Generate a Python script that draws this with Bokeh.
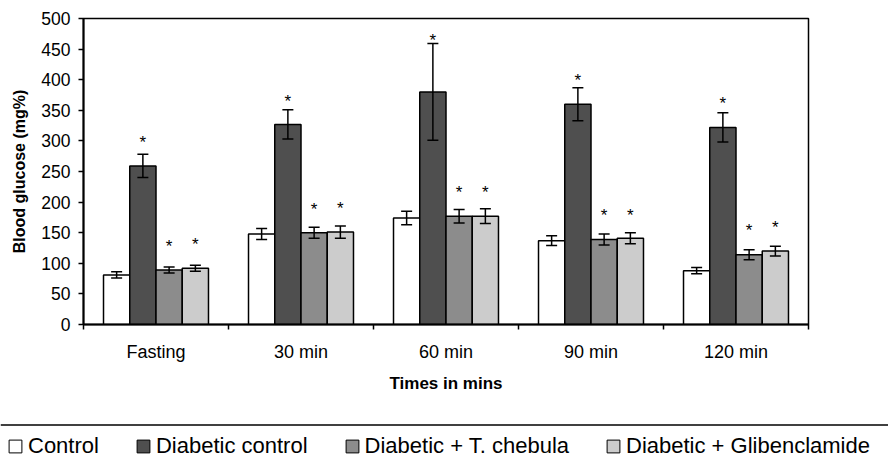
from bokeh.plotting import figure
from bokeh.models import (ColumnDataSource, Range1d, FixedTicker, Whisker, TeeHead,
                          Legend, LegendItem, Span)
from bokeh.core.properties import value
from bokeh.embed import file_html
from bokeh.resources import INLINE

# ---------------- data ----------------
categories = ["Fasting", "30 min", "60 min", "90 min", "120 min"]
series = ["Control", "Diabetic control", "Diabetic + T. chebula", "Diabetic + Glibenclamide"]
colors = ["#ffffff", "#4f4f4f", "#8c8c8c", "#cccccc"]

control = [81, 148, 174, 137, 88]
control_err = [5, 9, 11, 8, 5]
diabetic = [259, 327, 380, 360, 322]
diabetic_err = [19, 24, 79, 27, 24]
chebula = [89, 150, 177, 139, 114]
chebula_err = [5, 9, 11, 9, 8]
glib = [92, 151, 177, 141, 120]
glib_err = [5, 10, 12, 9, 8]

# significance markers (*) levels, in mg%
star_diabetic = [304, 371, 470, 405, 367]
star_chebula = [134, 194, 222, 184, 160]
star_glib = [137, 196, 222, 185, 165]

y_ticks = [0, 50, 100, 150, 200, 250, 300, 350, 400, 450, 500]

FONT = "Liberation Sans"
W = 888

# ---------------- main chart ----------------
p = figure(width=W, height=408, output_backend="svg", toolbar_location=None,
           x_range=Range1d(0, len(categories)), y_range=Range1d(0, 500),
           min_border_left=83, min_border_right=80, min_border_top=18, min_border_bottom=84,
           tools="")
p.grid.visible = False
p.outline_line_color = "black"
p.outline_line_width = 1.5

centers = [i + 0.5 for i in range(len(categories))]
BW = 0.181
vals_all = [control, diabetic, chebula, glib]
errs_all = [control_err, diabetic_err, chebula_err, glib_err]
stars_all = [None, star_diabetic, star_chebula, star_glib]

for k, (name, col, vals, errs, st) in enumerate(zip(series, colors, vals_all, errs_all, stars_all)):
    off = (k - 1.5) * BW
    src = ColumnDataSource(dict(
        x=[c + off for c in centers],
        top=vals,
        upper=[v + e for v, e in zip(vals, errs)],
        lower=[v - e for v, e in zip(vals, errs)],
    ))
    p.vbar(x="x", top="top", width=BW, source=src, fill_color=col,
           line_color="black", line_width=1.5)
    w = Whisker(source=src, base="x", upper="upper", lower="lower",
                line_color="black", line_width=1.5, level="annotation",
                upper_head=TeeHead(size=11, line_color="black", line_width=1.5),
                lower_head=TeeHead(size=11, line_color="black", line_width=1.5))
    p.add_layout(w)
    if st is not None:
        p.text(x=[c + off for c in centers], y=st, text=["*"] * len(st),
               text_align="center", text_baseline="middle", y_offset=4,
               text_font=value(FONT), text_font_size="17px", text_color="black")

# x axis: labels at centres, tick marks at category boundaries
xa = p.xaxis[0]
xa.ticker = FixedTicker(ticks=centers, minor_ticks=list(range(len(categories) + 1)))
xa.major_label_overrides = {c: lab for c, lab in zip(centers, categories)}
xa.major_tick_out = 0
xa.major_tick_in = 0
xa.minor_tick_out = 5
xa.minor_tick_in = 0
xa.minor_tick_line_color = "black"
xa.minor_tick_line_width = 1.5
xa.axis_line_color = "black"
xa.axis_line_width = 2
xa.major_label_text_font = FONT
xa.major_label_text_font_size = "18px"
xa.major_label_text_color = "black"
xa.major_label_standoff = 12
xa.axis_label = "Times in mins"
xa.axis_label_text_font = FONT
xa.axis_label_text_font_style = "bold"
xa.axis_label_text_font_size = "17px"
xa.axis_label_text_color = "black"
xa.axis_label_standoff = 9

ya = p.yaxis[0]
ya.ticker = FixedTicker(ticks=y_ticks)
ya.major_tick_out = 5
ya.major_tick_in = 0
ya.minor_tick_out = 0
ya.minor_tick_in = 0
ya.major_tick_line_color = "black"
ya.major_tick_line_width = 1.5
ya.axis_line_color = "black"
ya.axis_line_width = 2
ya.major_label_text_font = FONT
ya.major_label_text_font_size = "17.5px"
ya.major_label_text_color = "black"
ya.major_label_standoff = 8
ya.axis_label = "Blood glucose (mg%)"
ya.axis_label_text_font = FONT
ya.axis_label_text_font_style = "bold"
ya.axis_label_text_font_size = "16px"
ya.axis_label_text_color = "black"
ya.axis_label_standoff = 10

# ---------------- legend strip (separate root, full width) ----------------
LH = 55
lg = figure(width=W, height=LH, output_backend="svg", toolbar_location=None,
            x_range=Range1d(0, W), y_range=Range1d(0, LH),
            x_axis_type=None, y_axis_type=None, tools="",
            min_border=0, min_border_left=0, min_border_right=0,
            min_border_top=0, min_border_bottom=0)
lg.grid.visible = False
lg.outline_line_color = None
lg.add_layout(Span(location=LH - 16.5, dimension="width", line_color="black", line_width=1.5))

nan = float("nan")
items = []
for name, col in zip(series, colors):
    r = lg.vbar(x=[nan], top=[nan], width=1, fill_color=col, line_color="black", line_width=1)
    items.append(LegendItem(label=name, renderers=[r]))

legend = Legend(items=items, orientation="horizontal", location=(7, 4),
                padding=0, margin=0, spacing=36, label_standoff=5,
                glyph_width=16, glyph_height=16,
                label_text_font=FONT, label_text_font_size="22px",
                label_text_color="black",
                border_line_color=None, background_fill_alpha=0)
lg.add_layout(legend)

open("out.html", "w").write(file_html([p, lg], INLINE))
